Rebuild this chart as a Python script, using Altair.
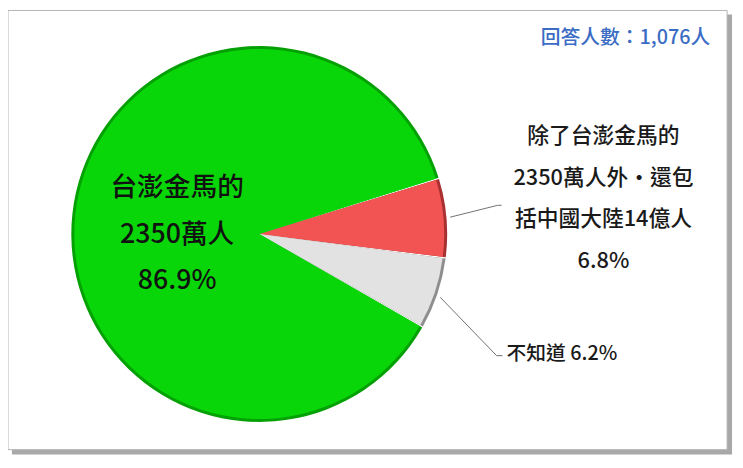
import math
import altair as alt
import pandas as pd

# ---- data ----
categories = ["除了台澎金馬的2350萬人外，還包括中國大陸14億人", "不知道", "台澎金馬的2350萬人"]
values = [6.8, 6.2, 86.9]
order = [0, 1, 2]
fill_colors = ["#f25454", "#e2e2e2", "#08d608"]
rim_colors = ["#a83030", "#8e8e8e", "#05a005"]

green_lines = ["台澎金馬的", "2350萬人", f"{values[2]}%"]
red_lines = ["除了台澎金馬的", "2350萬人外・還包", "括中國大陸14億人", f"{values[0]}%"]
gray_label = f"不知道 {values[1]}%"
count_label = "回答人數：1,076人"

df = pd.DataFrame({
    "category": categories,
    "value": values,
    "order": order,
    "fill": fill_colors,
    "rim": rim_colors,
})

FONT = "Noto Sans CJK TC"
start = math.radians(72.8)
theta_scale = alt.Scale(range=[start, start + 2 * math.pi])
cx, cy = 254, 226

base = alt.Chart(df)

# frame with shadow
shadow = base.transform_filter(alt.datum.order == 0).mark_rect(color="#a8a8a8").encode(
    x=alt.value(4), x2=alt.value(732), y=alt.value(4), y2=alt.value(449)
)
frame = base.transform_filter(alt.datum.order == 0).mark_rect(
    fill="white", stroke="#b4b4b4", strokeWidth=1
).encode(x=alt.value(0), x2=alt.value(727), y=alt.value(0), y2=alt.value(444))

pie_enc = dict(
    theta=alt.Theta("value:Q", stack=True, scale=theta_scale),
    order=alt.Order("order:Q"),
    x=alt.value(cx),
    y=alt.value(cy),
)
rim = base.mark_arc(radius=190, padAngle=0.007).encode(
    color=alt.Color("rim:N", scale=None), **pie_enc
)
fill = base.mark_arc(radius=187, padAngle=0.007).encode(
    color=alt.Color("fill:N", scale=None), **pie_enc
)

def one(i):
    return base.transform_filter(alt.datum.order == i)

green_text = one(2).mark_text(
    font=FONT, fontSize=27, fontWeight=500, color="#111111", align="center",
    baseline="middle", lineHeight=47
).encode(text=alt.value(green_lines), x=alt.value(171), y=alt.value(180))

red_text = one(0).mark_text(
    font=FONT, fontSize=22, fontWeight=500, color="#1a1a1a", align="center",
    baseline="middle", lineHeight=42
).encode(text=alt.value(red_lines), x=alt.value(602), y=alt.value(127))

gray_text = one(1).mark_text(
    font=FONT, fontSize=20, fontWeight=500, color="#1a1a1a", align="left", baseline="middle"
).encode(text=alt.value(gray_label), x=alt.value(504), y=alt.value(347))

count_text = one(1).mark_text(
    font=FONT, fontSize=20, fontWeight=500, color="#3b6cc4", align="right", baseline="middle"
).encode(text=alt.value(count_label), x=alt.value(710), y=alt.value(28))

# leader lines
red_leader1 = one(0).mark_rule(color="#707070", strokeWidth=1).encode(
    x=alt.value(447), y=alt.value(209), x2=alt.value(495), y2=alt.value(197)
)
red_leader2 = one(0).mark_rule(color="#707070", strokeWidth=1).encode(
    x=alt.value(495), y=alt.value(197), x2=alt.value(499), y2=alt.value(197)
)
gray_leader1 = one(1).mark_rule(color="#707070", strokeWidth=1).encode(
    x=alt.value(437), y=alt.value(290), x2=alt.value(494), y2=alt.value(349)
)
gray_leader2 = one(1).mark_rule(color="#707070", strokeWidth=1).encode(
    x=alt.value(494), y=alt.value(349), x2=alt.value(500), y2=alt.value(349)
)

chart = alt.layer(
    shadow, frame, rim, fill,
    red_leader1, red_leader2, gray_leader1, gray_leader2,
    green_text, red_text, gray_text, count_text,
).properties(
    width=735, height=452, padding=0, autosize="none"
).configure_view(stroke=None)

chart.save("out.html", embed_options={"renderer": "svg", "actions": False})
